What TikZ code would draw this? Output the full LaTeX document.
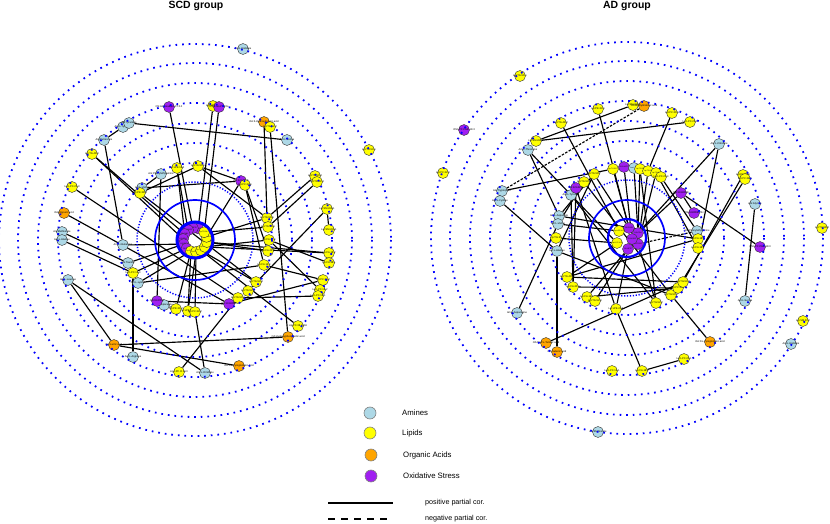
\documentclass[tikz,border=0pt]{standalone}
\usepackage{fontspec}
\setmainfont{Liberation Sans}
\pgfdeclarelayer{edges}
\pgfdeclarelayer{rings}
\pgfsetlayers{edges,main,rings}
\definecolor{amc}{HTML}{ADD8E6}
\definecolor{lpc}{HTML}{FFFF00}
\definecolor{oac}{HTML}{FFA500}
\definecolor{osc}{HTML}{A020F0}
\definecolor{ringc}{HTML}{0000FF}
\tikzset{
 nd/.style={circle,draw=black!80,line width=0.4bp,minimum size=11bp,inner sep=0pt},
 am/.style={nd,fill=amc}, lp/.style={nd,fill=lpc}, oa/.style={nd,fill=oac}, os/.style={nd,fill=osc},
 lbl/.style={inner sep=0pt,font=\fontsize{2.6}{3}\selectfont},
 clbl/.style={inner sep=0pt,font=\fontsize{1.8}{2}\selectfont},
 edge/.style={line width=1.15bp,black},
 negedge/.style={edge,dash pattern=on 2.5bp off 1.5bp},
 dring/.style={ringc,line width=1.8bp,dash pattern=on 1.7bp off 4.9bp},
 dringb/.style={ringc,line width=1.5bp,dash pattern=on 1.2bp off 1.7bp},
 sring/.style={ringc,line width=1.7bp},
 tring/.style={ringc,line width=3bp},
 legc/.style={circle,draw=gray,line width=0.6bp,minimum size=12bp,inner sep=0pt},
 legt/.style={anchor=west,font=\fontsize{7.8}{9}\selectfont,inner sep=0pt},
 ttl/.style={font=\bfseries\fontsize{10.5}{12}\selectfont,inner sep=0pt}
}
\newcommand\mn[5]{\node[#1] (#2) at (#3,#4) {}; \node[lbl] at (#2) {#5};}
\newcommand\cn[5]{\node[#1] (#2) at (#3,#4) {}; \node[clbl] at (#2) {#5};}
\begin{document}
\begin{tikzpicture}[x=1bp,y=-1bp]
\useasboundingbox (0,0) rectangle (830,524);
\node[ttl] (t1) at (196,6) {SCD group};
\node[ttl] (t2) at (627,6) {AD group};

% ================= SCD network =================
\mn{am}{sa1}{243}{49}{Am:L-Histidine}
\mn{am}{sa3}{123}{127}{Am:L-Tyrosine}
\mn{am}{sa2}{129}{123}{Am:Tyramine}
\mn{am}{sa4}{104}{140}{Am:Putrescine}
\mn{am}{sa5}{287}{140}{Am:L-Serine}
\mn{am}{sa6}{161}{174}{Am:Phenylethylamine}
\mn{am}{sa7}{142}{188}{Am:L-Valine}
\mn{am}{sa8}{62}{232}{Am:Methionine}
\mn{am}{sa9}{62}{240}{Am:L-Alanine}
\mn{am}{sa10}{123}{245}{Am:L-Glutamine}
\mn{am}{sa11}{128}{263}{Am:Taurine}
\mn{am}{sa12}{138}{283}{Am:L-Lysine}
\mn{am}{sa13}{68}{280}{Am:L-Leucine}
\mn{am}{sa14}{164}{305}{Am:Asparagine}
\mn{am}{sa15}{133}{357}{Am:L-Arginine}
\mn{am}{sa16}{205}{373}{Am:L-Ornithine}
\mn{oa}{so1}{264}{122}{OA:3-Hydroxybutyric.acid}
\mn{oa}{so2}{64}{213}{OA:Hippuric.acid}
\mn{oa}{so3}{114}{345}{OA:Lactic.acid}
\mn{oa}{so4}{288}{337}{OA:Hydroxyphenyllactic.acid}
\mn{oa}{so5}{239}{366}{OA:DL-Pyroglutamic.acid}
\mn{lp}{sl1}{213}{106}{Lip:SM.34.1}
\mn{os}{sx1}{169}{107}{OS:Aminoadipic.CT.0.0}
\mn{os}{sx2}{219}{107}{OS:8-iso-PGF2a}
\mn{lp}{sl2}{270}{127}{Lip:TG.52.2}
\mn{lp}{sl3}{369}{150}{Lip:TG.54.1}
\mn{lp}{sl4}{92}{154}{Lip:TG.48.0}
\mn{lp}{sl5}{177}{168}{Lip:LPE.18.0}
\mn{lp}{sl6}{198}{166}{Lip:TG.50.1}
\mn{os}{sx3}{241}{181}{OS:12-HETE}
\mn{lp}{sl7}{245}{185}{Lip:PC.32.1}
\mn{lp}{sl8}{315}{176}{Lip:TG.50.3}
\mn{lp}{sl9}{317}{182}{Lip:TG.52.3}
\mn{lp}{sl10}{72}{187}{Lip:LPC.20.3}
\mn{lp}{sl11}{140}{193}{Lip:PE.38.4}
\mn{lp}{sl12}{327}{209}{Lip:SM.d18.1}
\mn{lp}{sl13}{267}{218}{Lip:TG.56.5}
\mn{lp}{sl14}{268}{227}{Lip:TG.56.6}
\mn{lp}{sl15}{329}{230}{Lip:SM.d16.1}
\mn{lp}{sl16}{269}{240}{Lip:FA.20.4}
\mn{lp}{sl17}{268}{251}{Lip:FA.22.6}
\mn{lp}{sl18}{329}{253}{Lip:FA.18.2}
\mn{lp}{sl19}{329}{263}{Lip:FA.18.1}
\mn{lp}{sl20}{264}{265}{Lip:FA.16.0}
\mn{lp}{sl21}{133}{273}{Lip:LPC.16.0}
\mn{lp}{sl22}{323}{280}{Lip:PC.36.2}
\mn{lp}{sl23}{256}{282}{Lip:TG.54.3}
\mn{lp}{sl24}{320}{290}{Lip:LPC.18.2}
\mn{lp}{sl25}{318}{296}{Lip:LPC.18.1}
\mn{lp}{sl26}{248}{291}{Lip:TG.52.4}
\mn{lp}{sl27}{238}{298}{Lip:TG.50.2}
\mn{os}{sx4}{157}{301}{OS:9-HODE}
\mn{os}{sx5}{229}{304}{OS:13-HODE}
\mn{lp}{sl28}{176}{309}{Lip:PE.36.2}
\mn{lp}{sl29}{188}{311}{Lip:LPE.18.2}
\mn{lp}{sl30}{195}{312}{Lip:PC.34.2}
\mn{lp}{sl31}{298}{326}{Lip:PC.38.4.OH}
\mn{lp}{sl32}{179}{372}{Lip:LPC.O.16.0}
% central cluster SCD
\foreach \i/\a/\t/\n in {1/-75/os/OS:HODE,2/-100/os/OS:HETE,3/-125/os/OS:PGE2,4/-150/os/OS:TXB2,5/-175/os/OS:LTB4,6/-200/os/OS:EPA,7/-225/os/OS:DHA,
  8/-250/lp/Lip:PC.34.1,9/-275/lp/Lip:PC.36.4,10/-300/lp/Lip:TG.50.0,11/-325/lp/Lip:TG.52.1,12/-350/lp/Lip:FA.18.3,13/-375/lp/Lip:PE.38.6,14/-400/lp/Lip:TG.54.2}
 {\node[\t] (sc\i) at ([shift={(\a:12)}]195,240) {}; \node[clbl] at (sc\i) {\n};}

\begin{pgfonlayer}{edges}
\draw[edge] (sa2) -- (sa5);
\draw[edge] (sa3) -- (sa4);
\draw[edge] (sa4) -- (sa10);
\draw[edge] (sx1) -- (sc2);
\draw[edge] (sl1) -- (sc1);
\draw[edge] (sx2) -- (sc14);
\draw[edge] (so1) -- (sl13);
\draw[edge] (sl2) -- (so4);
\draw[edge] (sl4) -- (sc4);
\draw[edge] (sl4) -- (sc5);
\draw[edge] (sl10) -- (sl27);
\draw[edge] (so2) -- (sx5);
\draw[edge] (sa9) -- (sl21);
\draw[edge] (sa8) -- (sa11);
\draw[edge] (sa13) -- (so3);
\draw[edge] (sa13) -- (sa16);
\draw[edge] (so3) -- (so4);
\draw[edge] (so3) -- (so5);
\draw[edge] (sa15) -- (sl21);
\draw[edge] (sl32) -- (sl27);
\draw[edge] (sa16) -- (sl30);
\draw[edge] (sl31) -- (sc10);
\draw[edge] (sl12) -- (sl15);
\draw[edge] (sl12) -- (sl26);
\draw[edge] (sl8) -- (sl13);
\draw[edge] (sl9) -- (sl14);
\draw[edge] (sl18) -- (sc12);
\draw[edge] (sl19) -- (sl16);
\draw[edge] (sx4) -- (sx5);
\draw[edge] (sx5) -- (sl22);
\draw[edge] (sa7) -- (sx3);
\draw[edge] (sl11) -- (sl6);
\draw[edge] (sl11) -- (sl23);
\draw[edge] (sa6) -- (sx4);
\draw[edge] (sa6) -- (sa7);
\draw[edge] (sl6) -- (sx3);
\draw[edge] (sl6) -- (sl13);
\draw[edge] (sx3) -- (sc13);
\draw[edge] (sl7) -- (sl17);
\draw[edge] (sc8) -- (sl28);
\draw[edge] (sc8) -- (sl29);
\draw[edge] (sc9) -- (sl30);
\draw[edge] (sc9) -- (sl29);
\draw[edge] (sa11) -- (sc6);
\draw[edge] (sl21) -- (sc7);
\draw[edge] (sc11) -- (sl16);
\draw[edge] (sc12) -- (sl17);
\draw[edge] (sc13) -- (sl13);
\draw[edge] (sc14) -- (sl14);
\draw[edge] (sa10) -- (sc6);
\draw[edge] (sl5) -- (sc3);
\draw[edge] (sl25) -- (sl27);
\draw[edge] (sl24) -- (sl16);
\draw[edge] (sl22) -- (sl20);
\draw[edge] (sa12) -- (sc8);
\draw[edge] (sc10) -- (sl23);
\draw[edge] (sl20) -- (sa12);
\draw[edge] (sa14) -- (sl28);
\draw[edge] (sl5) -- (sc7);
\draw[edge] (sc11) -- (sl18);
\draw[edge] (sl7) -- (sl20);
\end{pgfonlayer}

% ================= AD network =================
\mn{lp}{al1}{520}{76}{Lip:TG.56.1}
\mn{lp}{al2}{443}{173}{Lip:PC.32.0}
\mn{os}{ax1}{464}{130}{OS:LPC.PGE.18.3}
\mn{lp}{al3}{633}{105}{Lip:SM.d18.0}
\mn{oa}{ao1}{644}{106}{OA:Methylmalonic.acid}
\mn{lp}{al4}{598}{109}{Lip:PE.34.1}
\mn{lp}{al5}{672}{113}{Lip:PC.36.5}
\mn{lp}{al6}{561}{123}{Lip:TG.48.2}
\mn{lp}{al7}{690}{122}{Lip:LPC.22.6}
\mn{am}{aa1}{528}{150}{Am:L-Threonine}
\mn{lp}{al8}{536}{141}{Lip:SM.d18.2}
\mn{am}{aa2}{719}{144}{Am:L-Citrulline}
\mn{lp}{al9}{743}{175}{Lip:PC.40.6}
\mn{lp}{al10}{745}{179}{Lip:PC.38.6}
\mn{am}{aa3}{502}{191}{Am:Tryptophan}
\mn{am}{aa4}{500}{201}{Am:L-Cystine}
\mn{am}{aa5}{571}{195}{Am:L-Tyrosine}
\mn{os}{ax2}{576}{188}{OS:12-HETE}
\mn{lp}{al11}{584}{182}{Lip:TG.54.5}
\mn{lp}{al12}{594}{174}{Lip:TG.56.7}
\cn{lp}{al13}{613}{169}{Lip:TG.52.5}
\cn{os}{ax3}{624}{167}{OS:5-HETE}
\cn{am}{aa6}{634}{168}{Am:L-Val}
\cn{lp}{al14}{640}{169}{Lip:TG.50}
\cn{lp}{al15}{648}{171}{Lip:TG.52}
\cn{lp}{al16}{656}{173}{Lip:TG.54}
\mn{lp}{al17}{661}{177}{Lip:LPC.20.4}
\mn{os}{ax4}{681}{193}{OS:13-HODE}
\mn{os}{ax5}{694}{213}{OS:9-HODE.OH}
\mn{am}{aa7}{755}{204}{Am:Glycine}
\mn{am}{aa8}{559}{216}{Am:L-Aspartate}
\mn{am}{aa9}{558}{224}{Am:L-Valine}
\mn{lp}{al18}{822}{228}{Lip:TG.58.8}
\mn{am}{aa10}{697}{231}{Am:Phenylethylamine}
\mn{lp}{al19}{698}{239}{Lip:FA.18.2}
\mn{lp}{al20}{698}{248}{Lip:FA.18.1}
\mn{lp}{al21}{556}{238}{Lip:TG.51}
\mn{os}{ax6}{760}{247}{OS:LPC.PGE.18.0}
\mn{am}{aa11}{557}{251}{Am:L-Alanine}
\mn{lp}{al22}{567}{277}{Lip:TG.46.1}
\mn{lp}{al23}{573}{287}{Lip:FA.20.4}
\mn{lp}{al24}{587}{297}{Lip:FA.16.1}
\mn{lp}{al25}{595}{301}{Lip:TG.52.0}
\mn{lp}{al26}{616}{309}{Lip:LPE.20.4}
\mn{lp}{al27}{656}{303}{Lip:TG.52.2}
\mn{lp}{al28}{671}{295}{Lip:TG.50.1}
\mn{lp}{al29}{678}{288}{Lip:PC.34.2}
\mn{lp}{al30}{683}{282}{Lip:TG.54.3}
\mn{am}{aa12}{745}{301}{Am:L-Serine}
\mn{am}{aa13}{517}{313}{Am:L-Asparagine}
\mn{lp}{al31}{803}{321}{Lip:SM.40.2}
\mn{oa}{ao2}{546}{343}{OA:DAP.L-Tartaric.acid}
\mn{oa}{ao3}{557}{352}{OA:Suberic.acid}
\mn{oa}{ao4}{710}{342}{OA:DL-Pyroglutamic.acid}
\mn{am}{aa14}{791}{344}{Am:L-Histidine}
\mn{lp}{al32}{684}{359}{Lip:LPC.20.1}
\mn{lp}{al33}{642}{371}{Lip:FA.18.0}
\mn{lp}{al34}{612}{371}{Lip:LPC.16.1}
\mn{am}{aa15}{598}{432}{Am:Methionine}
% central cluster AD
\cn{lp}{ac2}{619}{231}{Lip:LPE.18.1}
\cn{lp}{ac3}{617}{243}{Lip:LPC.18.0}
\cn{os}{ac1}{629}{228}{OS:PGE2}
\cn{os}{ac4}{628}{249}{OS:HETE}
\cn{os}{ac5}{638}{244}{OS:TXB2}
\cn{os}{ac6}{638}{233}{OS:LTB4}
\cn{os}{ac7}{632}{239}{OS:HODE}

\begin{pgfonlayer}{edges}
\draw[edge] (al8) -- (al3);
\draw[edge] (al8) -- (al7);
\draw[negedge] (aa3) -- (ao1);
\draw[edge] (aa3) -- (al13);
\draw[edge] (aa4) -- (aa11);
\draw[edge] (aa1) -- (aa8);
\draw[edge] (al6) -- (ac2);
\draw[edge] (al4) -- (ac1);
\draw[edge] (al5) -- (al15);
\draw[edge] (aa2) -- (ac6);
\draw[edge] (aa2) -- (al20);
\draw[edge] (al9) -- (al30);
\draw[edge] (al10) -- (al29);
\draw[edge] (aa7) -- (aa12);
\draw[edge] (ax6) -- (ax4);
\draw[edge] (ax4) -- (ax5);
\draw[edge] (ax4) -- (ac6);
\draw[negedge] (aa10) -- (ac5);
\draw[edge] (aa13) -- (aa9);
\draw[edge] (aa11) -- (ao3);
\draw[edge] (ao2) -- (al30);
\draw[edge] (ao4) -- (al28);
\draw[edge] (al33) -- (al26);
\draw[edge] (al33) -- (al32);
\draw[edge] (al23) -- (al29);
\draw[edge] (aa8) -- (al19);
\draw[edge] (al12) -- (ac1);
\draw[edge] (al13) -- (ac1);
\draw[edge] (aa6) -- (ac6);
\draw[edge] (al14) -- (ac6);
\draw[edge] (al15) -- (ac5);
\draw[edge] (al16) -- (al20);
\draw[edge] (al17) -- (aa10);
\draw[edge] (ax2) -- (al26);
\draw[edge] (aa5) -- (al27);
\draw[edge] (al11) -- (al28);
\draw[edge] (aa9) -- (ac2);
\draw[edge] (al21) -- (ac3);
\draw[edge] (al22) -- (ac3);
\draw[edge] (al24) -- (ac4);
\draw[edge] (al25) -- (ac4);
\draw[edge] (al26) -- (ac4);
\draw[edge] (ac5) -- (al27);
\draw[edge] (al22) -- (al30);
\draw[edge] (aa8) -- (al12);
\draw[edge] (aa9) -- (al11);
\draw[edge] (al24) -- (al29);
\draw[edge] (al19) -- (al22);
\draw[edge] (ax3) -- (ac7);
\draw[edge] (al12) -- (aa11);
\draw[edge] (aa11) -- (al28);
\draw[edge] (al23) -- (aa5);
\draw[edge] (ax2) -- (al23);
\draw[edge] (aa1) -- (ac3);
\draw[edge] (al14) -- (al27);
\draw[edge] (al16) -- (ac5);
\end{pgfonlayer}

% ================= rings =================
\begin{pgfonlayer}{rings}
\foreach \cx/\cy in {195/240, 627/238} {
  \foreach \r in {77,97,117,137,157,177,196} {\draw[dring] (\cx,\cy) circle[radius=\r];}
  \draw[dringb] (\cx,\cy) circle[radius=58];
}
\draw[sring] (195,240) circle[radius=40];
\draw[tring] (195,240) circle[radius=18];
\draw[sring] (627,238) circle[radius=38];
\draw[sring,line width=2.2bp] (627,238) circle[radius=19];
\end{pgfonlayer}

% ================= legend =================
\node[legc,fill=amc] (g1) at (370,413) {};
\node[legt] (g1t) at (402,413) {Amines};
\node[legc,fill=lpc] (g2) at (370,433) {};
\node[legt] (g2t) at (402,433) {Lipids};
\node[legc,fill=oac] (g3) at (371,455) {};
\node[legt] (g3t) at (403,455) {Organic Acids};
\node[legc,fill=osc] (g4) at (371,476) {};
\node[legt] (g4t) at (403,476) {Oxidative Stress};
\coordinate (p1) at (328,503); \coordinate (p2) at (393,503);
\coordinate (n1) at (328,519); \coordinate (n2) at (393,519);
\draw[line width=1.3bp] (p1) -- (p2);
\draw[line width=1.3bp,dash pattern=on 6.5bp off 6.5bp] (n1) -- (n2);
\node[legt,font=\fontsize{7.2}{9}\selectfont] (pt) at (425,503) {positive partial cor.};
\node[legt,font=\fontsize{7.2}{9}\selectfont] (nt) at (425,519) {negative partial cor.};
\end{tikzpicture}
\end{document}
